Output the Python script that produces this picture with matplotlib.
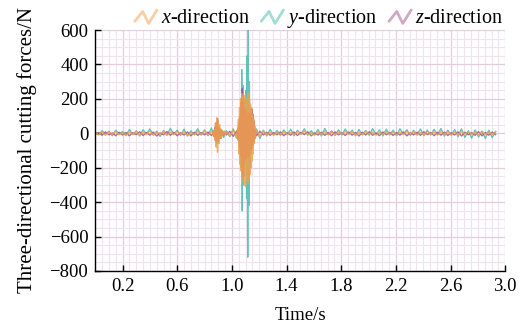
import numpy as np
import matplotlib
matplotlib.use('Agg')
import matplotlib.pyplot as plt
from matplotlib.lines import Line2D
from matplotlib.legend_handler import HandlerBase
from matplotlib.ticker import MultipleLocator

plt.rcParams['font.family'] = ['Liberation Serif', 'DejaVu Serif']
plt.rcParams['mathtext.fontset'] = 'custom'
plt.rcParams['mathtext.rm'] = 'Liberation Serif'
plt.rcParams['mathtext.it'] = 'Liberation Serif:italic'

# segment time spans (s): quiet, small burst, gap, main burst, quiet
seg_spans = [(0.0, 0.85), (0.86, 0.955), (0.96, 1.035), (1.04, 1.176), (1.18, 2.93)]

# x-direction force (N), per segment
fx = [
    [3, -8, 6, -12, 9, -5, 11, -9, 4, -14, 8, -6, 12, -10, 5, -7, 13, -11, 6, -4,
     10, -13, 7, -8, 12, -6, 9, -15, 5, -9, 11, -7, 14, -12, 8],
    [5, -10, 20, -40, 60, -80, 90, -110, 70, -60, 50, -30, 25, -20, 15, -10, 8, -5, 10, -6],
    [10, -15, 20, -25],
    [20, -40, 80, -120, 150, -180, 200, -220, 230, -250, 210, -280, 190, -300, 220, -310,
     200, -270, 180, -290, 230, -260, 200, -240, 170, -200, 150, -160, 110, -120, 80, -60,
     40, -30, 15],
    [20, -18, 12, -10, 8, -12, 6, -9, 11, -7, 5, -10, 9, -6, 12, -8, 4, -11, 7, -5,
     10, -9, 6, -12, 8, -4, 11, -7, 9, -10, 5, -8, 12, -6, 7, -11, 4, -9, 10, -5,
     8, -12, 6, -7, 11, -4, 9, -10, 5, -8, 12, -6, 7, -11, 10, -5, 8, -9, 6, -12,
     11, -4, 9, -7, 5, -10, 12, -8, 6, -9, 10],
]

# y-direction force (N)
fy = [
    [8, -10, 15, -6, 12, -14, 18, -5, 10, -12, 22, -8, 14, -16, 20, -4, 25, -10, 12, -18,
     16, -9, 28, -6, 18, -12, 24, -15, 14, -8, 26, -11, 20, -14, 30],
    [8, 15, -20, 35, -45, 40, -60, 30, -35, 25, -20, 15, -30, 20, -15, 10, -25, 12, -8, 5],
    [15, -20, 25, -30],
    [15, -30, 40, -60, 90, -120, 150, -200, 370, -450, 280, -300, 200, -250, 180, -160,
     250, -380, 450, -720, 650, -420, 300, -200, 150, -120, 90, -70, 60, -40, 30, -25,
     20, -15, 10],
    [25, -30, 18, -15, 22, -10, 16, -12, 20, -8, 24, -14, 18, -6, 26, -12, 15, -10, 22, -16,
     28, -8, 14, -12, 20, -10, 25, -6, 18, -14, 22, -9, 16, -12, 27, -8, 20, -15, 24, -10,
     18, -13, 26, -7, 21, -12, 17, -9, 25, -14, 19, -10, 23, -8, 28, -16, 18, -11, 22, -20,
     26, -24, 15, -28, 20, -22, 12, -30, 18, -25, 10],
]

# z-direction force (N)
fz = [
    [-6, 4, -12, 8, -9, 2, -14, 6, -10, 5, -15, 3, -8, 9, -13, 4, -11, 7, -16, 2,
     -9, 10, -12, 5, -14, 3, -10, 8, -15, 6, -12, 4, -9, 7, -13],
    [-5, 10, -15, 30, -25, 60, -40, 85, -50, 40, -30, 20, -15, 10, -8, 5, -10, 6, -4, 3],
    [-10, 12, -18, 15],
    [-10, 25, -40, 60, -80, 100, -130, 180, -200, 260, -250, 200, -180, 150, -140, 130,
     -150, 120, -110, 100, -140, 120, -130, 110, -100, 130, -90, 140, -70, 110, -50, 70,
     -30, 20, -10],
    [-15, 12, -10, 6, -12, 4, -9, 8, -14, 3, -11, 7, -13, 5, -8, 9, -15, 2, -10, 6,
     -12, 4, -14, 8, -9, 3, -13, 7, -11, 5, -16, 6, -10, 9, -12, 2, -14, 7, -9, 5,
     -13, 4, -11, 8, -15, 3, -10, 6, -12, 9, -8, 4, -14, 5, -11, 7, -13, 3, -10, 8,
     -16, 6, -9, 4, -12, 10, -15, 5, -11, 7, -8],
]

labels = ['$x$-direction', '$y$-direction', '$z$-direction']
colors = ['#F3A04C', '#45BBAC', '#A2528E']
xticks = [0.2, 0.6, 1.0, 1.4, 1.8, 2.2, 2.6, 3.0]
yticks = [600, 400, 200, 0, -200, -400, -600, -800]


def build(series):
    t = np.concatenate([np.linspace(a, b, len(s)) for (a, b), s in zip(seg_spans, series)])
    v = np.concatenate([np.array(s, float) for s in series])
    return t, v


class ZigZag(HandlerBase):
    def create_artists(self, legend, orig_handle, xdescent, ydescent,
                       width, height, fontsize, trans):
        xs = np.array([0.0, 0.35, 0.62, 1.0]) * width - xdescent
        ys = np.array([0.15, 0.85, 0.0, 0.95]) * height - ydescent
        ln = Line2D(xs, ys, color=orig_handle.get_color(), lw=2.0, alpha=0.5,
                    solid_joinstyle='round', solid_capstyle='round')
        ln.set_transform(trans)
        return [ln]


fig = plt.figure(figsize=(5.29, 3.30), dpi=100)
ax = fig.add_axes([0.18, 0.179, 0.775, 0.73])

order = [1, 2, 0]  # y, z drawn first, x on top
handles = {}
for i in order:
    t, v = build([fx, fy, fz][i])
    h, = ax.plot(t, v, color=colors[i], lw=1.0, alpha=0.85, label=labels[i])
    handles[i] = h

ax.set_xlim(0.0, 3.0)
ax.set_ylim(-800, 600)
ax.set_xticks(xticks)
ax.set_xticklabels([f'{x:.1f}' for x in xticks])
ax.set_yticks(yticks)
ax.set_yticklabels([f'{y}'.replace('-', '\u2212') for y in yticks])
ax.xaxis.set_minor_locator(MultipleLocator(0.05))
ax.yaxis.set_minor_locator(MultipleLocator(50))
ax.grid(which='minor', color='#F0E2EE', lw=0.8)
ax.grid(which='major', color='#E2CCDD', lw=0.9)
ax.set_axisbelow(True)
ax.tick_params(which='major', direction='in', length=4, width=1, labelsize=13.5, pad=5)
ax.tick_params(which='minor', length=0)
ax.spines['top'].set_visible(False)
ax.spines['right'].set_visible(False)
for s in ['left', 'bottom']:
    ax.spines[s].set_linewidth(1.0)

ax.set_xlabel('Time/s', fontsize=13.5, labelpad=9)
ax.set_ylabel('Three-directional cutting forces/N', fontsize=15, labelpad=9)

ax.legend([handles[0], handles[1], handles[2]], labels,
          handler_map={Line2D: ZigZag()}, loc='lower right',
          bbox_to_anchor=(1.0, 0.99), ncol=3, frameon=False, fontsize=14.5,
          handlelength=1.1, handletextpad=0.2, columnspacing=0.55, borderpad=0.1,
          borderaxespad=0.0)

fig.savefig('out.png', dpi=100)
